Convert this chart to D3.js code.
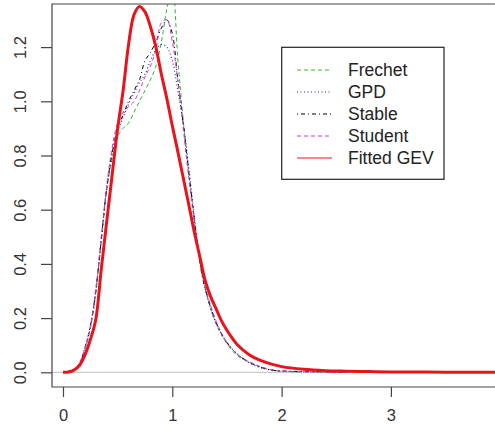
<!DOCTYPE html>
<html><head><meta charset="utf-8">
<script src="https://cdn.jsdelivr.net/npm/d3@7"></script>
<style>
html,body{margin:0;padding:0;background:#fff;}
svg{display:block;font-family:"Liberation Sans",Arial,sans-serif;}
</style></head>
<body>
<svg id="chart" width="495" height="432"></svg>
<script>
// ---- data ----
const xTicks = [0, 1, 2, 3];
const yTicks = [0, 0.2, 0.4, 0.6, 0.8, 1.0, 1.2];
const seriesNames = ["Frechet", "GPD", "Stable", "Student", "Fitted GEV"];

const empX = [0,0.1,0.15,0.2,0.25,0.3,0.35,0.4,0.45,0.5,0.55,0.6,0.65,0.7,0.75,0.8,0.85,0.9,0.95,1.0,1.05,1.1,1.15,1.2,1.25,1.3,1.4,1.5,1.6,1.7,1.8,1.9,2.0,2.2,2.4,2.6];
const frechetY = [0,0.01,0.03,0.085,0.16,0.29,0.48,0.67,0.79,0.87,0.90,0.92,0.96,1.0,1.04,1.08,1.13,1.22,1.34,1.42,1.16,0.93,0.74,0.57,0.41,0.31,0.18,0.105,0.06,0.038,0.02,0.009,0.004,0.002,0.001,0];
const gpdY     = [0,0.01,0.03,0.085,0.165,0.30,0.49,0.68,0.81,0.89,0.94,0.99,1.03,1.07,1.10,1.15,1.19,1.21,1.20,1.15,1.04,0.92,0.76,0.58,0.42,0.31,0.18,0.11,0.065,0.036,0.018,0.008,0.004,0.002,0.001,0];
const stableY  = [0,0.01,0.03,0.09,0.17,0.30,0.49,0.68,0.81,0.90,0.95,1.0,1.04,1.08,1.15,1.18,1.22,1.27,1.30,1.25,1.08,0.92,0.74,0.57,0.41,0.31,0.185,0.11,0.065,0.038,0.02,0.009,0.005,0.003,0.002,0];
const studentY = [0,0.01,0.035,0.09,0.17,0.31,0.50,0.69,0.83,0.92,0.96,0.98,1.0,1.04,1.09,1.13,1.19,1.29,1.30,1.22,1.08,0.90,0.72,0.56,0.42,0.32,0.19,0.11,0.065,0.04,0.022,0.01,0.004,0.002,0.001,0];

const gevX = [0,0.05,0.1,0.15,0.2,0.25,0.3,0.35,0.4,0.45,0.5,0.55,0.6,0.65,0.7,0.75,0.8,0.85,0.9,0.95,1.0,1.05,1.1,1.15,1.2,1.25,1.3,1.35,1.4,1.45,1.5,1.55,1.6,1.7,1.8,1.9,2.0,2.2,2.4,2.6,2.8,3.0,3.5,4.0];
const gevY = [0,0.001,0.008,0.025,0.063,0.12,0.195,0.38,0.557,0.73,0.90,1.04,1.21,1.32,1.35,1.33,1.275,1.20,1.10,1.01,0.91,0.815,0.718,0.62,0.52,0.43,0.34,0.28,0.235,0.19,0.155,0.125,0.10,0.066,0.045,0.031,0.021,0.011,0.006,0.004,0.0025,0.0015,0.0006,0.0003];

// ---- layout ----
const svg = d3.select("#chart");
const W = 495, H = 432;
const plotL = 52, plotT = 4, plotB = 387, plotR = 520;
const x = d3.scaleLinear().domain([0, 4]).range([63, 500.2]);
const y = d3.scaleLinear().domain([0, 1.2]).range([372.3, 47.1]);

svg.append("defs").append("clipPath").attr("id","clip")
  .append("rect").attr("x", plotL).attr("y", plotT).attr("width", plotR - plotL).attr("height", plotB - plotT);

// grey zero line
svg.append("line").attr("x1", plotL).attr("x2", W).attr("y1", y(0)).attr("y2", y(0))
  .attr("stroke", "#bebebe").attr("stroke-width", 1);

const line = d3.line().x(d => x(d[0])).y(d => y(d[1])).curve(d3.curveCatmullRom.alpha(0.5));
const g = svg.append("g").attr("clip-path", "url(#clip)");

const styles = [
  {name: seriesNames[0], xs: empX, ys: frechetY, color: "#2fb82f", dash: "4,3", w: 1},
  {name: seriesNames[1], xs: empX, ys: gpdY, color: "#23238f", dash: "1,2.5", w: 1.1},
  {name: seriesNames[2], xs: empX, ys: stableY, color: "#000000", dash: "1,3,4,3", w: 1},
  {name: seriesNames[3], xs: empX, ys: studentY, color: "#d633d6", dash: "4,3", w: 1},
  {name: seriesNames[4], xs: gevX, ys: gevY, color: "#e8141c", dash: null, w: 3}
];
styles.forEach(s => {
  g.append("path").datum(s.xs.map((v, i) => [v, s.ys[i]]))
    .attr("d", line).attr("fill", "none").attr("stroke", s.color)
    .attr("stroke-width", s.w).attr("stroke-dasharray", s.dash)
    .attr("stroke-linejoin", "round");
});

// box
const axCol = "#444";
svg.append("path").attr("d", `M${W+2},${plotT}H${plotL}V${plotB}H${W+2}`)
  .attr("fill", "none").attr("stroke", axCol).attr("stroke-width", 1.2);

// axes
const xAxis = svg.append("g").attr("transform", `translate(0,${plotB})`)
  .call(d3.axisBottom(x).tickValues(xTicks).tickFormat(d3.format("d")).tickSize(10).tickPadding(12));
const yAxis = svg.append("g").attr("transform", `translate(${plotL},0)`)
  .call(d3.axisLeft(y).tickValues(yTicks).tickFormat(d3.format(".1f")).tickSize(11).tickPadding(0));
[xAxis, yAxis].forEach(a => {
  a.select(".domain").remove();
  a.selectAll("line").attr("stroke", axCol).attr("stroke-width", 1.2);
  a.selectAll("text").attr("fill", "#333").attr("font-size", "16.5px")
    .attr("font-family", "Liberation Sans, Arial, sans-serif");
});
xAxis.selectAll("text").attr("dy", "0.71em");
yAxis.selectAll("text")
  .attr("text-anchor", "middle")
  .attr("transform", `translate(${20 - plotL},0) rotate(-90)`)
  .attr("x", 0).attr("y", 0).attr("dy", "0.36em");

// legend
const lg = svg.append("g");
lg.append("rect").attr("x", 281.7).attr("y", 47.3).attr("width", 162.3).attr("height", 132)
  .attr("fill", "#fff").attr("stroke", "#222").attr("stroke-width", 1.2);
const legY = [70, 92, 114, 136, 158];
styles.forEach((s, i) => {
  lg.append("line").attr("x1", 297).attr("x2", 332).attr("y1", legY[i]).attr("y2", legY[i])
    .attr("stroke", s.color).attr("stroke-width", 1).attr("stroke-dasharray", s.dash);
  lg.append("text").attr("x", 348).attr("y", legY[i]).attr("dy", "0.36em")
    .attr("font-size", "17.5px").attr("fill", "#222").text(s.name);
});
</script>
</body></html>
